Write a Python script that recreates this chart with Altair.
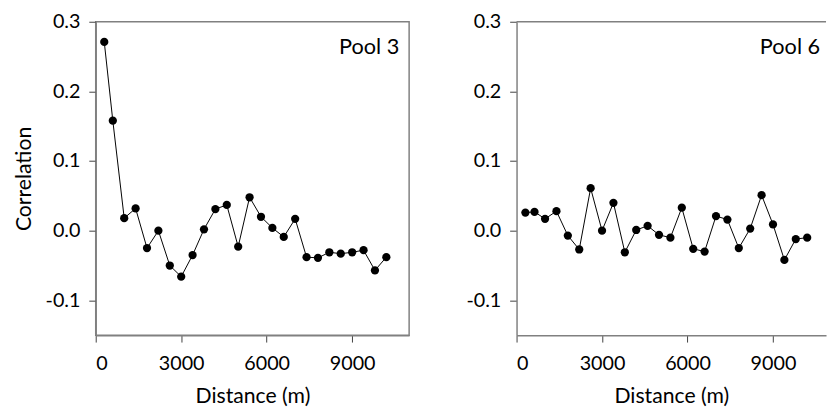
import altair as alt
import pandas as pd

# Pool 3
dist3 = [300, 600, 1000, 1400, 1800, 2200, 2600, 3000, 3400, 3800, 4200, 4600, 5000,
         5400, 5800, 6200, 6600, 7000, 7400, 7800, 8200, 8600, 9000, 9400, 9800, 10200]
corr3 = [0.271, 0.158, 0.018, 0.032, -0.025, 0.000, -0.050, -0.066, -0.035, 0.002, 0.031, 0.037, -0.023,
         0.048, 0.020, 0.004, -0.009, 0.017, -0.038, -0.039, -0.031, -0.033, -0.031, -0.028, -0.057, -0.038]

# Pool 6
dist6 = [310, 630, 1000, 1400, 1800, 2200, 2600, 3000, 3400, 3800, 4200, 4600, 5000,
         5400, 5800, 6200, 6600, 7000, 7400, 7800, 8200, 8600, 9000, 9400, 9800, 10200]
corr6 = [0.026, 0.027, 0.017, 0.028, -0.007, -0.027, 0.061, 0.000, 0.040, -0.031, 0.001, 0.007, -0.006,
         -0.010, 0.033, -0.026, -0.030, 0.021, 0.016, -0.025, 0.003, 0.051, 0.009, -0.042, -0.012, -0.010]

x_ticks = [0, 3000, 6000, 9000]
y_ticks = [-0.1, 0.0, 0.1, 0.2, 0.3]
y_domain = [-0.15, 0.3]

FONT = "Lato"
PH = 318
LABEL_EXPR = "datum.value < 0 ? '-' + format(-datum.value, '.1f') : format(datum.value, '.1f')"


def panel(dist, corr, label, with_title, width, xmax, border):
    df = pd.DataFrame({"d": dist, "c": corr})
    x = alt.X("d:Q", scale=alt.Scale(domain=[0, xmax], nice=False, zero=False),
              axis=alt.Axis(values=x_ticks, format="d", title="Distance (m)"))
    if with_title:
        yaxis = alt.Axis(values=y_ticks, title="Correlation", labelExpr=LABEL_EXPR)
    else:
        yaxis = alt.Axis(values=y_ticks, title=None, labelExpr=LABEL_EXPR)
    y = alt.Y("c:Q", scale=alt.Scale(domain=y_domain, nice=False, zero=False), axis=yaxis)
    base = alt.Chart(df)
    line = base.mark_line(color="black", strokeWidth=1).encode(x=x, y=y)
    pts = base.mark_circle(color="black", opacity=1, size=70).encode(x=x, y=y)
    txt = alt.Chart(pd.DataFrame({"t": [label]})).mark_text(
        font=FONT, fontSize=22, align="right", baseline="alphabetic", color="black"
    ).encode(text="t:N", x=alt.value(318 - 10), y=alt.value(33))
    layers = [line, pts, txt]
    if not border:
        top = alt.Chart(pd.DataFrame({"yy": [0.3]})).mark_rule(color="#808080", strokeWidth=1.5).encode(
            y=alt.Y("yy:Q"))
        layers.append(top)
    ch = alt.layer(*layers).properties(width=width, height=PH)
    if not border:
        ch = ch.properties(view=alt.ViewBackground(stroke="transparent"))
    return ch


left = panel(dist3, corr3, "Pool 3", True, 318, 11000, True)
right = panel(dist6, corr6, "Pool 6", False, 314, 11000 * 314 / 318, False)

chart = alt.hconcat(left, right, spacing=55).properties(
    padding={"left": 4, "top": 0, "right": 0, "bottom": 0}
).configure_view(
    stroke="#808080", strokeWidth=1.5
).configure_axis(
    grid=False,
    domainColor="#808080", domainWidth=1.5,
    tickColor="#404040", tickSize=7, tickWidth=1,
    labelFont=FONT, labelFontSize=20, labelColor="black", labelPadding=9,
    titleFont=FONT, titleFontSize=21.5, titleFontWeight="normal", titleColor="black",
).configure_axisY(titlePadding=10).configure_axisX(titlePadding=12, labelPadding=12)

chart.save("out.html", embed_options={"renderer": "svg", "actions": False})
